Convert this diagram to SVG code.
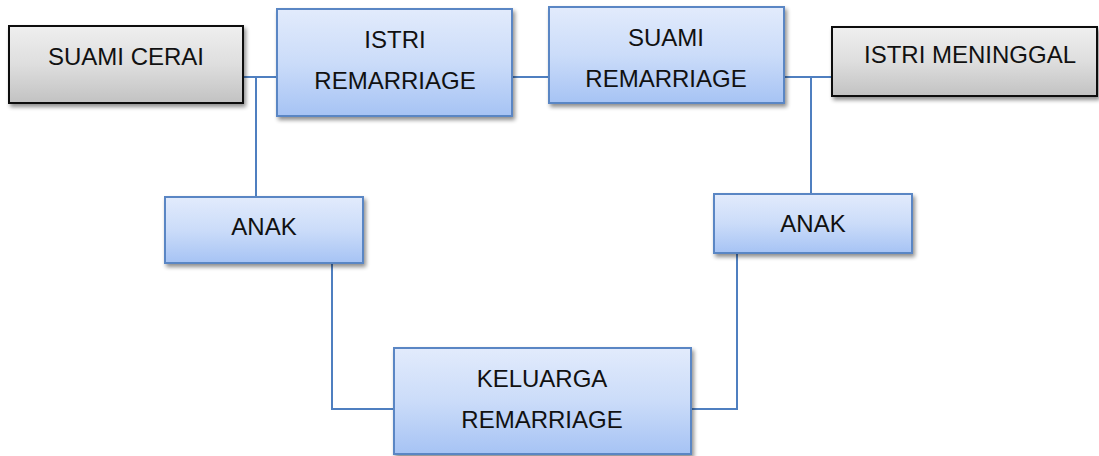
<svg xmlns="http://www.w3.org/2000/svg" width="1099" height="456" viewBox="0 0 1099 456">
<defs>
<linearGradient id="gBlue" x1="0" y1="0" x2="0" y2="1">
<stop offset="0" stop-color="#e2ebfc"/>
<stop offset="0.5" stop-color="#cbdcf9"/>
<stop offset="1" stop-color="#a6c3f4"/>
</linearGradient>
<linearGradient id="gGray" x1="0" y1="0" x2="0" y2="1">
<stop offset="0" stop-color="#efefef"/>
<stop offset="0.5" stop-color="#dedede"/>
<stop offset="1" stop-color="#c2c2c2"/>
</linearGradient>
<filter id="sh" x="-10%" y="-10%" width="125%" height="135%">
<feGaussianBlur in="SourceAlpha" stdDeviation="2"/>
<feOffset dx="2" dy="3" result="b"/>
<feComponentTransfer><feFuncA type="linear" slope="0.45"/></feComponentTransfer>
<feMerge><feMergeNode/><feMergeNode in="SourceGraphic"/></feMerge>
</filter>
</defs>
<style>
.blue{fill:url(#gBlue);stroke:#5a86c4;stroke-width:2;filter:url(#sh)}
.gray{fill:url(#gGray);stroke:#111;stroke-width:2;filter:url(#sh)}
.t{font-family:"Liberation Sans",Arial,sans-serif;font-size:24px;fill:#111;text-anchor:middle}
.c{fill:none;stroke:#4f7fc0;stroke-width:2}
</style>
<g id="connectors">
<polyline class="c" points="243,77 277,77"/>
<polyline class="c" points="256,77 256,197"/>
<polyline class="c" points="512,77 549,77"/>
<polyline class="c" points="784,77 832,77"/>
<polyline class="c" points="811,77 811,194"/>
<polyline class="c" points="332,263 332,409 394,409"/>
<polyline class="c" points="737,253 737,409 691,409"/>
</g>
<g id="suami-cerai">
<rect class="gray" x="9" y="26" width="234" height="77"/>
<text class="t" x="126" y="65">SUAMI CERAI</text>
</g>
<g id="istri-remarriage">
<rect class="blue" x="277" y="9" width="235" height="107"/>
<text class="t" x="395" y="48">ISTRI</text>
<text class="t" x="395" y="89">REMARRIAGE</text>
</g>
<g id="suami-remarriage">
<rect class="blue" x="549" y="7" width="235" height="96"/>
<text class="t" x="666" y="46">SUAMI</text>
<text class="t" x="666" y="87">REMARRIAGE</text>
</g>
<g id="istri-meninggal">
<rect class="gray" x="832" y="27" width="265" height="69"/>
<text class="t" x="970" y="63">ISTRI MENINGGAL</text>
</g>
<g id="anak-kiri">
<rect class="blue" x="165" y="197" width="198" height="66"/>
<text class="t" x="264" y="235">ANAK</text>
</g>
<g id="anak-kanan">
<rect class="blue" x="714" y="194" width="198" height="59"/>
<text class="t" x="813" y="232">ANAK</text>
</g>
<g id="keluarga-remarriage">
<rect class="blue" x="394" y="348" width="297" height="106"/>
<text class="t" x="542" y="387">KELUARGA</text>
<text class="t" x="542" y="428">REMARRIAGE</text>
</g>
</svg>
